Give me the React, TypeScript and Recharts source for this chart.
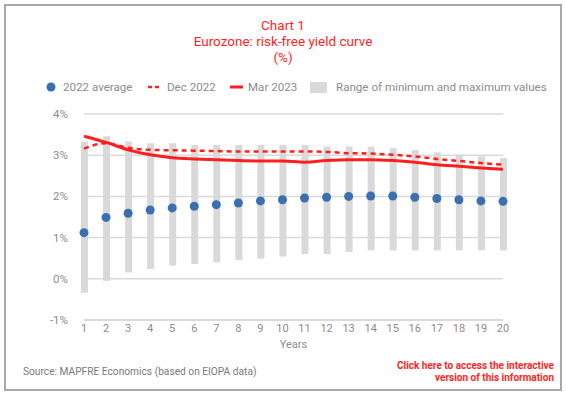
import React from 'react';
import { ComposedChart, Bar, Line, XAxis, YAxis, CartesianGrid } from 'recharts';

const years = [1, 2, 3, 4, 5, 6, 7, 8, 9, 10, 11, 12, 13, 14, 15, 16, 17, 18, 19, 20];
const rangeMin = [-0.34, -0.05, 0.15, 0.24, 0.32, 0.36, 0.4, 0.45, 0.49, 0.54, 0.6, 0.6, 0.65, 0.69, 0.69, 0.69, 0.69, 0.69, 0.69, 0.69];
const rangeMax = [3.33, 3.46, 3.33, 3.29, 3.29, 3.25, 3.25, 3.25, 3.25, 3.25, 3.25, 3.21, 3.21, 3.21, 3.17, 3.13, 3.07, 3.01, 2.97, 2.93];
const avg2022 = [1.12, 1.49, 1.59, 1.67, 1.72, 1.76, 1.8, 1.84, 1.89, 1.92, 1.96, 1.98, 2.0, 2.01, 2.01, 1.98, 1.95, 1.92, 1.89, 1.88];
const dec2022 = [3.16, 3.29, 3.18, 3.13, 3.12, 3.11, 3.1, 3.09, 3.09, 3.09, 3.09, 3.08, 3.05, 3.04, 3.01, 2.97, 2.91, 2.86, 2.81, 2.77];
const mar2023 = [3.46, 3.31, 3.13, 3.01, 2.94, 2.91, 2.89, 2.87, 2.86, 2.86, 2.83, 2.87, 2.89, 2.89, 2.87, 2.83, 2.77, 2.73, 2.69, 2.66];
const yTicks = [-1, 0, 1, 2, 3, 4];

const data = years.map((year, i) => ({
  year,
  range: [rangeMin[i], rangeMax[i]],
  avg: avg2022[i],
  dec: dec2022[i],
  mar: mar2023[i],
}));

const RED = '#ff1f1f';
const GREY_TEXT = '#8c8c8c';
const FONT = 'Roboto, "DejaVu Sans", sans-serif';

const App: React.FC = () => {
  return (
    <div style={{ position: 'absolute', left: 0, top: 0, width: 566, height: 398, background: '#fff', fontFamily: FONT }}>
      <div style={{ position: 'absolute', left: 4, top: 4, width: 558, height: 387, border: '2px solid #a8a8a8', boxSizing: 'border-box' }} />

      {/* title */}
      <div style={{ position: 'absolute', left: 0, top: 17, width: 566, textAlign: 'center', color: RED, fontSize: 13.5, lineHeight: '16px' }}>
        <div>Chart 1</div>
        <div>Eurozone: risk-free yield curve</div>
        <div>(%)</div>
      </div>

      {/* legend */}
      <svg style={{ position: 'absolute', left: 0, top: 76 }} width={566} height={24}>
        <circle cx={51} cy={11} r={4.5} fill="#3a70ad" />
        <text x={63} y={15} fontSize={11.6} fill={GREY_TEXT} fontFamily={FONT}>2022 average</text>
        <line x1={148} y1={11} x2={159} y2={11} stroke={RED} strokeWidth={2.5} strokeDasharray="4 3" />
        <text x={167} y={15} fontSize={11.6} fill={GREY_TEXT} fontFamily={FONT}>Dec 2022</text>
        <line x1={230} y1={11} x2={243} y2={11} stroke={RED} strokeWidth={3} />
        <text x={248} y={15} fontSize={11.6} fill={GREY_TEXT} fontFamily={FONT}>Mar 2023</text>
        <rect x={310} y={6} width={17} height={11} fill="#d9d9d9" />
        <text x={336} y={15} fontSize={11.6} fill={GREY_TEXT} fontFamily={FONT}>Range of minimum and maximum values</text>
      </svg>

      <div style={{ position: 'absolute', left: 0, top: 0 }}>
        <ComposedChart width={566} height={398} data={data} margin={{ top: 114, right: 63, bottom: 0, left: 0 }}>
          <CartesianGrid vertical={false} stroke="#d9d9d9" strokeWidth={1.5} />
          <XAxis
            type="number"
            dataKey="year"
            domain={[1, 20]}
            ticks={years}
            interval={0}
            height={78}
            tickLine={false}
            tickSize={0}
            tickMargin={4}
            axisLine={{ stroke: '#d9d9d9', strokeWidth: 2 }}
            tick={{ fill: GREY_TEXT, fontSize: 11, fontFamily: FONT }}
          />
          <YAxis
            domain={[-1, 4]}
            ticks={yTicks}
            width={84}
            axisLine={false}
            tickLine={false}
            tickSize={0}
            tickMargin={16}
            tickFormatter={(v: number) => `${v}%`}
            tick={{ fill: GREY_TEXT, fontSize: 11.5, fontFamily: FONT }}
          />
          <Bar dataKey="range" fill="#d9d9d9" barSize={7} isAnimationActive={false} />
          <Line type="monotone" dataKey="dec" stroke={RED} strokeWidth={2.5} strokeDasharray="5 4" dot={false} isAnimationActive={false} />
          <Line type="monotone" dataKey="mar" stroke={RED} strokeWidth={3} dot={false} isAnimationActive={false} />
          <Line dataKey="avg" stroke="none" dot={{ r: 4.5, fill: '#3a70ad', stroke: 'none' }} activeDot={false} isAnimationActive={false} />
        </ComposedChart>
      </div>

      <div style={{ position: 'absolute', left: 84, width: 419, top: 338, textAlign: 'center', color: GREY_TEXT, fontSize: 11 }}>Years</div>

      <div style={{ position: 'absolute', left: 23, top: 366, color: '#7a7a7a', fontSize: 10.2 }}>
        Source: MAPFRE Economics (based on EIOPA data)
      </div>
      <div style={{ position: 'absolute', right: 12, top: 360, textAlign: 'right', color: RED, fontSize: 10, fontWeight: 'bold', lineHeight: '11.5px' }}>
        <div>Click here to access the interactive</div>
        <div>version of this information</div>
      </div>
    </div>
  );
};

export default App;
